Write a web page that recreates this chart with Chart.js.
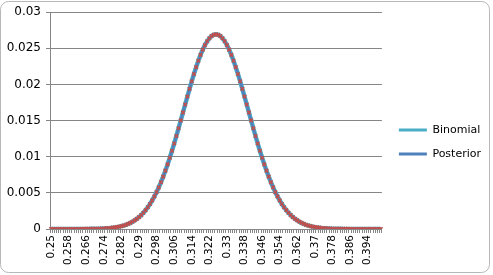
<!DOCTYPE html>
<html>

<head>
	<meta charset="utf-8">
	<title>Binomial vs Posterior</title>
	<script src="https://cdn.jsdelivr.net/npm/chart.js@4/dist/chart.umd.min.js"></script>
	<style>
		body { margin: 0; background: #fff; }
		#wrap { width: 493px; height: 275px; }
	</style>
</head>

<body>
	<div id="wrap"><canvas id="myChart" width="493" height="275"></canvas></div>

	<script>
		// x categories (proportion), 0.25 .. 0.40 in steps of 0.001
		const categories = [
			0.25, 0.251, 0.252, 0.253, 0.254, 0.255, 0.256, 0.257, 0.258, 0.259,
			0.26, 0.261, 0.262, 0.263, 0.264, 0.265, 0.266, 0.267, 0.268, 0.269,
			0.27, 0.271, 0.272, 0.273, 0.274, 0.275, 0.276, 0.277, 0.278, 0.279,
			0.28, 0.281, 0.282, 0.283, 0.284, 0.285, 0.286, 0.287, 0.288, 0.289,
			0.29, 0.291, 0.292, 0.293, 0.294, 0.295, 0.296, 0.297, 0.298, 0.299,
			0.3, 0.301, 0.302, 0.303, 0.304, 0.305, 0.306, 0.307, 0.308, 0.309,
			0.31, 0.311, 0.312, 0.313, 0.314, 0.315, 0.316, 0.317, 0.318, 0.319,
			0.32, 0.321, 0.322, 0.323, 0.324, 0.325, 0.326, 0.327, 0.328, 0.329,
			0.33, 0.331, 0.332, 0.333, 0.334, 0.335, 0.336, 0.337, 0.338, 0.339,
			0.34, 0.341, 0.342, 0.343, 0.344, 0.345, 0.346, 0.347, 0.348, 0.349,
			0.35, 0.351, 0.352, 0.353, 0.354, 0.355, 0.356, 0.357, 0.358, 0.359,
			0.36, 0.361, 0.362, 0.363, 0.364, 0.365, 0.366, 0.367, 0.368, 0.369,
			0.37, 0.371, 0.372, 0.373, 0.374, 0.375, 0.376, 0.377, 0.378, 0.379,
			0.38, 0.381, 0.382, 0.383, 0.384, 0.385, 0.386, 0.387, 0.388, 0.389,
			0.39, 0.391, 0.392, 0.393, 0.394, 0.395, 0.396, 0.397, 0.398, 0.399,
			0.4
		];

		const binomial = [
			0, 0, 0, 0, 0, 0, 0, 0, 0, 0, 0, 0, 0, 0, 0,
			0.00001, 0.00001, 0.00001, 0.00002, 0.00002, 0.00003, 0.00003, 0.00004, 0.00006, 0.00007,
			0.00009, 0.00011, 0.00014, 0.00018, 0.00022, 0.00027, 0.00033, 0.00040, 0.00048, 0.00058,
			0.00070, 0.00084, 0.00100, 0.00119, 0.00140, 0.00165, 0.00193, 0.00225, 0.00261, 0.00301,
			0.00346, 0.00396, 0.00451, 0.00511, 0.00577, 0.00648, 0.00725, 0.00807, 0.00894, 0.00986,
			0.01083, 0.01183, 0.01287, 0.01394, 0.01503, 0.01613, 0.01723, 0.01833, 0.01940, 0.02045,
			0.02145, 0.02240, 0.02328, 0.02409, 0.02482, 0.02545, 0.02598, 0.02639, 0.02670, 0.02688,
			0.02694,
			0.02688, 0.02670, 0.02639, 0.02598, 0.02545, 0.02482, 0.02409, 0.02328, 0.02240, 0.02145,
			0.02045, 0.01940, 0.01833, 0.01723, 0.01613, 0.01503, 0.01394, 0.01287, 0.01183, 0.01083,
			0.00986, 0.00894, 0.00807, 0.00725, 0.00648, 0.00577, 0.00511, 0.00451, 0.00396, 0.00346,
			0.00301, 0.00261, 0.00225, 0.00193, 0.00165, 0.00140, 0.00119, 0.00100, 0.00084, 0.00070,
			0.00058, 0.00048, 0.00040, 0.00033, 0.00027, 0.00022, 0.00018, 0.00014, 0.00011, 0.00009,
			0.00007, 0.00006, 0.00004, 0.00003, 0.00003, 0.00002, 0.00002, 0.00001, 0.00001, 0.00001,
			0, 0, 0, 0, 0, 0, 0, 0, 0, 0, 0, 0, 0, 0, 0
		];

		// lies right on top of the binomial curve in the picture
		const posterior = [
			0, 0, 0, 0, 0, 0, 0, 0, 0, 0, 0, 0, 0, 0, 0,
			0.00001, 0.00001, 0.00001, 0.00002, 0.00002, 0.00003, 0.00003, 0.00004, 0.00006, 0.00007,
			0.00009, 0.00011, 0.00014, 0.00018, 0.00022, 0.00027, 0.00033, 0.00040, 0.00048, 0.00058,
			0.00070, 0.00084, 0.00100, 0.00119, 0.00140, 0.00165, 0.00193, 0.00225, 0.00261, 0.00301,
			0.00346, 0.00396, 0.00451, 0.00511, 0.00577, 0.00648, 0.00725, 0.00807, 0.00894, 0.00986,
			0.01083, 0.01183, 0.01287, 0.01394, 0.01503, 0.01613, 0.01723, 0.01833, 0.01940, 0.02045,
			0.02145, 0.02240, 0.02328, 0.02409, 0.02482, 0.02545, 0.02598, 0.02639, 0.02670, 0.02688,
			0.02694,
			0.02688, 0.02670, 0.02639, 0.02598, 0.02545, 0.02482, 0.02409, 0.02328, 0.02240, 0.02145,
			0.02045, 0.01940, 0.01833, 0.01723, 0.01613, 0.01503, 0.01394, 0.01287, 0.01183, 0.01083,
			0.00986, 0.00894, 0.00807, 0.00725, 0.00648, 0.00577, 0.00511, 0.00451, 0.00396, 0.00346,
			0.00301, 0.00261, 0.00225, 0.00193, 0.00165, 0.00140, 0.00119, 0.00100, 0.00084, 0.00070,
			0.00058, 0.00048, 0.00040, 0.00033, 0.00027, 0.00022, 0.00018, 0.00014, 0.00011, 0.00009,
			0.00007, 0.00006, 0.00004, 0.00003, 0.00003, 0.00002, 0.00002, 0.00001, 0.00001, 0.00001,
			0, 0, 0, 0, 0, 0, 0, 0, 0, 0, 0, 0, 0, 0, 0
		];

		const yTickLabels = ['0', '0.005', '0.01', '0.015', '0.02', '0.025', '0.03'];
		const xLabelEvery = 8;

		const gridCol = '#868686';

		// white background + the rounded frame excel puts round the chart
		const framePlugin = {
			id: 'frame',
			beforeDraw(chart) {
				const c = chart.ctx;
				c.save();
				c.fillStyle = '#fff';
				c.fillRect(0, 0, chart.width, chart.height);
				c.restore();
			},
			afterLayout(chart) {
				// push the legend a bit further right, like excel does
				const lg = chart.legend;
				if (lg) { lg.left += 4; lg.right += 4; }
			},
			afterDraw(chart) {
				const c = chart.ctx;
				c.save();
				c.strokeStyle = '#b8b8b8';
				c.lineWidth = 1;
				c.beginPath();
				c.roundRect(0.5, 1.5, 489, 271, 8);
				c.stroke();
				c.restore();
			}
		};

		const ctx = document.getElementById('myChart');
		const chart = new Chart(ctx, {
			type: 'line',
			data: {
				labels: categories.map(String),
				datasets: [{
					label: 'Binomial',
					data: binomial,
					borderColor: '#4BACC6',
					backgroundColor: '#4BACC6',
					borderWidth: 4.5,
					pointRadius: 0,
					tension: 0,
					borderJoinStyle: 'round',
					order: 1
				}, {
					label: 'Posterior',
					data: posterior,
					borderColor: '#4F81BD',
					backgroundColor: '#4F81BD',
					borderWidth: 2.5,
					pointStyle: 'crossRot',
					pointRadius: 2.5,
					pointBorderColor: '#C0504D',
					pointBorderWidth: 1.6,
					tension: 0,
					borderJoinStyle: 'round',
					order: -1
				}]
			},
			options: {
				responsive: false,
				animation: false,
				devicePixelRatio: 1,
				layout: { padding: { top: 9, right: 6, bottom: 0, left: 0 } },
				plugins: {
					tooltip: { enabled: false },
					legend: {
						position: 'right',
						labels: {
							font: { family: 'DejaVu Sans', size: 11 },
							color: '#000',
							boxWidth: 28,
							boxHeight: 3,
							padding: 13,
							sort: (a, b) => a.datasetIndex - b.datasetIndex,
							generateLabels: (ch) => {
								const items = Chart.defaults.plugins.legend.labels.generateLabels(ch);
								items.forEach(it => { it.lineWidth = 0; });
								return items;
							}
						}
					}
				},
				scales: {
					x: {
						offset: true,
						grid: {
							offset: true,
							drawOnChartArea: false,
							drawTicks: true,
							tickLength: 4,
							color: gridCol
						},
						border: { color: gridCol },
						ticks: {
							autoSkip: false,
							maxRotation: 90,
							minRotation: 90,
							padding: 2,
							color: '#000',
							font: { family: 'DejaVu Sans', size: 10.5 },
							callback: (v, i) => (i % xLabelEvery === 0 ? categories[i] + '' : '')
						},
						afterFit: (s) => { s.height = 46; }
					},
					y: {
						min: 0,
						max: 0.03,
						grid: { color: gridCol, tickLength: 4 },
						border: { color: gridCol },
						ticks: {
							stepSize: 0.005,
							color: '#000',
							padding: 5,
							font: { family: 'DejaVu Sans', size: 12 },
							callback: (v, i) => yTickLabels[i]
						},
						afterFit: (s) => { s.width = 50; }
					}
				}
			},
			plugins: [framePlugin]
		});
	</script>
</body>

</html>
